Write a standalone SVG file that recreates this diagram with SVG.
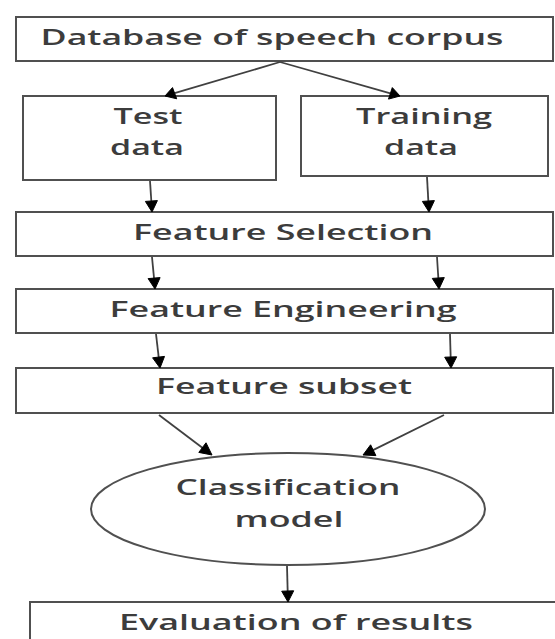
<svg xmlns="http://www.w3.org/2000/svg" width="555" height="639" viewBox="0 0 555 639">
<defs>
<style>
.box{fill:#ffffff;stroke:#505050;stroke-width:2}
.t{font-family:"Open Sans","DejaVu Sans",sans-serif;font-size:21px;font-weight:600;fill:#3c3c3c;text-anchor:middle}
.c{fill:none;stroke:#404040;stroke-width:1.8}
.ah{fill:#000000;stroke:#000000;stroke-width:1}
</style>
</defs>
<rect width="555" height="639" fill="#ffffff"/>
<g id="database">
<rect class="box" x="16" y="17" width="537" height="44"/>
<text class="t" x="272" y="45" textLength="463" lengthAdjust="spacingAndGlyphs">Database of speech corpus</text>
</g>
<g id="test">
<rect class="box" x="23" y="96" width="253" height="84"/>
<text class="t" x="148" y="124" textLength="69" lengthAdjust="spacingAndGlyphs">Test</text>
<text class="t" x="147" y="155" textLength="74" lengthAdjust="spacingAndGlyphs">data</text>
</g>
<g id="training">
<rect class="box" x="301" y="96" width="247" height="80"/>
<text class="t" x="424" y="124" textLength="136" lengthAdjust="spacingAndGlyphs">Training</text>
<text class="t" x="421" y="155" textLength="74" lengthAdjust="spacingAndGlyphs">data</text>
</g>
<g id="selection">
<rect class="box" x="16" y="212" width="537" height="44"/>
<text class="t" x="283" y="240" textLength="300" lengthAdjust="spacingAndGlyphs">Feature Selection</text>
</g>
<g id="engineering">
<rect class="box" x="16" y="289" width="537" height="44"/>
<text class="t" x="283" y="317" textLength="347" lengthAdjust="spacingAndGlyphs">Feature Engineering</text>
</g>
<g id="subset">
<rect class="box" x="16" y="368" width="537" height="45"/>
<text class="t" x="284" y="394" textLength="256" lengthAdjust="spacingAndGlyphs">Feature subset</text>
</g>
<g id="classification">
<ellipse class="box" cx="288" cy="509" rx="197" ry="56"/>
<text class="t" x="288" y="495" textLength="225" lengthAdjust="spacingAndGlyphs">Classification</text>
<text class="t" x="289" y="527" textLength="109" lengthAdjust="spacingAndGlyphs">model</text>
</g>
<g id="evaluation">
<rect class="box" x="30" y="602" width="540" height="60"/>
<text class="t" x="296" y="630" textLength="354" lengthAdjust="spacingAndGlyphs">Evaluation of results</text>
</g>
<g id="connectors">
<line class="c" x1="280" y1="62" x2="174.6" y2="93.2"/>
<polygon class="ah" points="165,96 172.5,87.6 176.7,98.8"/>
<line class="c" x1="280" y1="62" x2="390.4" y2="93.3"/>
<polygon class="ah" points="400,96 388.5,99.1 392.3,87.6"/>
<line class="c" x1="150" y1="181" x2="151.4" y2="202"/>
<polygon class="ah" points="152,212 145.4,201.4 157.4,200.6"/>
<line class="c" x1="427" y1="177" x2="428.4" y2="202"/>
<polygon class="ah" points="429,212 422.4,201.4 434.4,200.6"/>
<line class="c" x1="152" y1="257" x2="154.1" y2="279"/>
<polygon class="ah" points="155,289 148.1,278.6 160.1,277.6"/>
<line class="c" x1="437" y1="257" x2="438.4" y2="279"/>
<polygon class="ah" points="439,289 432.3,278.4 444.3,277.6"/>
<line class="c" x1="156" y1="334" x2="158.8" y2="358.1"/>
<polygon class="ah" points="160,368 152.6,357.8 164.5,356.4"/>
<line class="c" x1="450" y1="334" x2="450.7" y2="358"/>
<polygon class="ah" points="451,368 444.7,357.2 456.7,356.8"/>
<line class="c" x1="159" y1="415" x2="204" y2="449"/>
<polygon class="ah" points="212,455 198.8,452.4 206.0,442.8"/>
<line class="c" x1="444" y1="415" x2="372" y2="450.6"/>
<polygon class="ah" points="363,455 370.6,444.8 375.9,455.6"/>
<line class="c" x1="287" y1="566" x2="287.7" y2="592"/>
<polygon class="ah" points="288,602 281.7,591.2 293.7,590.8"/>
</g>
</svg>
